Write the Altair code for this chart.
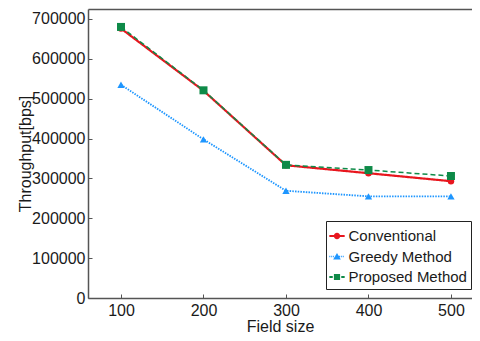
import altair as alt
import pandas as pd

# ---- data ----
field_size = [100, 200, 300, 400, 500]
conventional = [676000, 520000, 333000, 313000, 293000]
greedy = [535000, 398000, 269000, 255000, 255000]
proposed = [680000, 521000, 334000, 321000, 306000]

series_names = ["Conventional", "Greedy Method", "Proposed Method"]
y_ticks = [0, 100000, 200000, 300000, 400000, 500000, 600000, 700000]
x_ticks = [100, 200, 300, 400, 500]

# ---- styles ----
colors = ["#e8161e", "#1e96ff", "#0e8a48"]
dashes = [[1, 0], [1.5, 1.2], [5, 3]]
widths = [2.2, 1.5, 2.6]
shapes = ["circle", "triangle-up", "square"]
FONT = "Liberation Sans"


def rect(x0, x1, h):
    return f"M{x0:.3f},{-h:.3f}H{x1:.3f}V{h:.3f}H{x0:.3f}Z"


def line_path(kind):
    if kind == "solid":
        return rect(-0.72, 0.72, 0.085)
    if kind == "dotted":
        parts = []
        x = -0.72
        while x < 0.7:
            parts.append(rect(x, x + 0.09, 0.06))
            x += 0.18
        return "".join(parts)
    return rect(-0.72, -0.4, 0.1) + rect(0.4, 0.72, 0.1)


circle_p = "M0.3,0A0.3,0.3,0,1,1,-0.3,0A0.3,0.3,0,1,1,0.3,0Z"
tri_p = "M0,-0.34L0.36,0.28L-0.36,0.28Z"
square_p = "M-0.29,-0.29H0.29V0.29H-0.29Z"
legend_paths = [
    line_path("solid") + circle_p,
    line_path("dotted") + tri_p,
    line_path("dashed") + square_p,
]

rows = []
for name, vals in zip(series_names, [conventional, greedy, proposed]):
    for fs, v in zip(field_size, vals):
        rows.append({"field": fs, "value": v, "series": name})
df = pd.DataFrame(rows)

x_scale = alt.Scale(domain=[60, 525.5], nice=False, zero=False)
y_scale = alt.Scale(domain=[0, 725000], nice=False)
color_scale = alt.Scale(domain=series_names, range=colors)

base = alt.Chart(df)

# main axes: labels + domain line
lines = base.mark_line().encode(
    x=alt.X("field:Q", scale=x_scale,
            axis=alt.Axis(values=x_ticks, title="Field size", tickSize=0,
                          labelPadding=4, titleY=33.5, titleBaseline="alphabetic",
                          grid=False)),
    y=alt.Y("value:Q", scale=y_scale,
            axis=alt.Axis(values=y_ticks, title="Throughput[bps]", format="d",
                          tickSize=0, labelPadding=3, titleX=-58,
                          titleBaseline="alphabetic", grid=False)),
    color=alt.Color("series:N", scale=color_scale, legend=None),
    strokeDash=alt.StrokeDash("series:N",
                              scale=alt.Scale(domain=series_names, range=dashes),
                              legend=None),
    strokeWidth=alt.StrokeWidth("series:N",
                                scale=alt.Scale(domain=series_names, range=widths),
                                legend=None),
)

# markers; also carries top frame line and inward y ticks
points = base.mark_point(filled=True, opacity=1).encode(
    x=alt.X("field:Q", scale=x_scale,
            axis=alt.Axis(orient="top", labels=False, ticks=False, title=None,
                          grid=False)),
    y=alt.Y("value:Q", scale=y_scale,
            axis=alt.Axis(orient="left", values=y_ticks, labels=False, domain=False,
                          tickSize=4, offset=-4, title=None, grid=False)),
    color=alt.Color("series:N", scale=color_scale, legend=None),
    shape=alt.Shape("series:N", scale=alt.Scale(domain=series_names, range=shapes),
                    legend=None),
    size=alt.Size("series:N", scale=alt.Scale(domain=series_names, range=[42, 64, 50]),
                  legend=None),
)

# legend carrier (no marks drawn) + inward x ticks
legend_layer = base.mark_point(filled=True, opacity=1).encode(
    x=alt.X("field:Q", scale=x_scale,
            axis=alt.Axis(orient="bottom", values=x_ticks, labels=False, domain=False,
                          tickSize=4, offset=-4, title=None, grid=False)),
    y=alt.Y("value:Q", scale=y_scale, axis=None),
    color=alt.Color("series:N", scale=color_scale,
                    legend=alt.Legend(title=None)),
    shape=alt.Shape("series:N",
                    scale=alt.Scale(domain=series_names, range=legend_paths),
                    legend=alt.Legend(title=None)),
).transform_filter("false")

chart = (
    alt.layer(lines, points, legend_layer)
    .resolve_scale(color="independent", shape="independent")
    .resolve_axis(x="independent", y="independent")
    .properties(
        width=384, height=289,
        autosize=alt.AutoSizeParams(type="none"),
        padding={"left": 80, "top": 1, "right": 0, "bottom": 38},
    )
    .configure_view(stroke=None)
    .configure_axis(
        domainColor="#555555", domainWidth=1.5, tickColor="#555555", tickWidth=1,
        labelFont=FONT, labelFontSize=16, labelColor="#1a1a1a",
        titleFont=FONT, titleFontSize=16, titleColor="#1a1a1a", titleFontWeight="normal",
    )
    .configure_legend(
        orient="none", legendX=238, legendY=212,
        strokeColor="#222222", fillColor="white", padding=4, cornerRadius=0,
        rowPadding=1.5, labelFont=FONT, labelFontSize=15, labelColor="#1a1a1a",
        labelOffset=0.5, symbolSize=454, symbolOffset=-4, symbolStrokeWidth=0,
        symbolOpacity=1, labelLimit=300,
    )
)

chart.save("out.html", embed_options={"renderer": "svg", "actions": False})
